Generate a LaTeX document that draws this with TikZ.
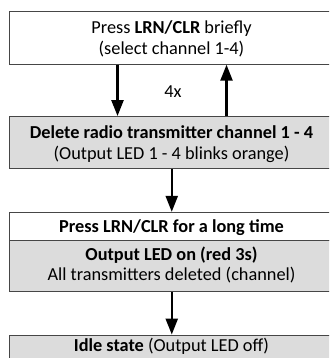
\documentclass[tikz,border=0pt]{standalone}
\usepackage{fontspec}
\setmainfont{Carlito}
\usetikzlibrary{arrows.meta,positioning}
\definecolor{boxgray}{RGB}{220,220,220}
\definecolor{edgegray}{RGB}{70,70,70}
\begin{document}
\begin{tikzpicture}[x=1pt,y=-1pt,font=\fontsize{18.3}{22}\selectfont]
	\clip (0,0) rectangle (329,358);

	\begin{scope}[every node/.style={rectangle,draw=edgegray,line width=0.9pt,minimum width=324.5pt,inner sep=0pt}]
		\node[minimum height=52.5pt] (press) at (171.75,38) {};
		\node[minimum height=52pt,fill=boxgray] (delete) at (171.75,142.5) {};
		\node[minimum height=27.7pt] (long) at (171.75,226.2) {};
		\node[minimum height=51.7pt,fill=boxgray] (ledon) at (171.75,265.9) {};
		\node[minimum height=28pt,fill=boxgray] (idle) at (171.75,349) {};
	\end{scope}

	\begin{scope}[every node/.style={anchor=base,inner sep=0pt}]
		\node (pressA) at (171.5,34) {Press \textbf{LRN/CLR} briefly};
		\node (pressB) at (171.5,55) {(select channel 1-4)};
		\node (count) at (173,98) {4x};
		\node (deleteA) at (171.5,138.3) {\textbf{Delete radio transmitter channel 1 - 4}};
		\node (deleteB) at (171.5,159.3) {(Output LED 1 - 4 blinks orange)};
		\node (longA) at (171.5,232.3) {\textbf{Press LRN/CLR for a long time}};
		\node (ledonA) at (171.5,260.7) {\textbf{Output LED on (red 3s)}};
		\node (ledonB) at (171.5,280.7) {All transmitters deleted (channel)};
		\node (idleA) at (171.5,351.5) {\textbf{Idle state} (Output LED off)};
	\end{scope}

	\begin{scope}[every edge/.style={draw=black,line width=2.3pt,-{Triangle[width=12pt,length=16pt]}}]
		\path ([xshift=-54.25pt]press.south) edge ([xshift=-54.25pt]delete.north);
		\path ([xshift=54.75pt]delete.north) edge ([xshift=54.75pt]press.south);
		\path (delete.south) edge (long.north);
		\path (ledon.south) edge (idle.north);
	\end{scope}
\end{tikzpicture}
\end{document}
